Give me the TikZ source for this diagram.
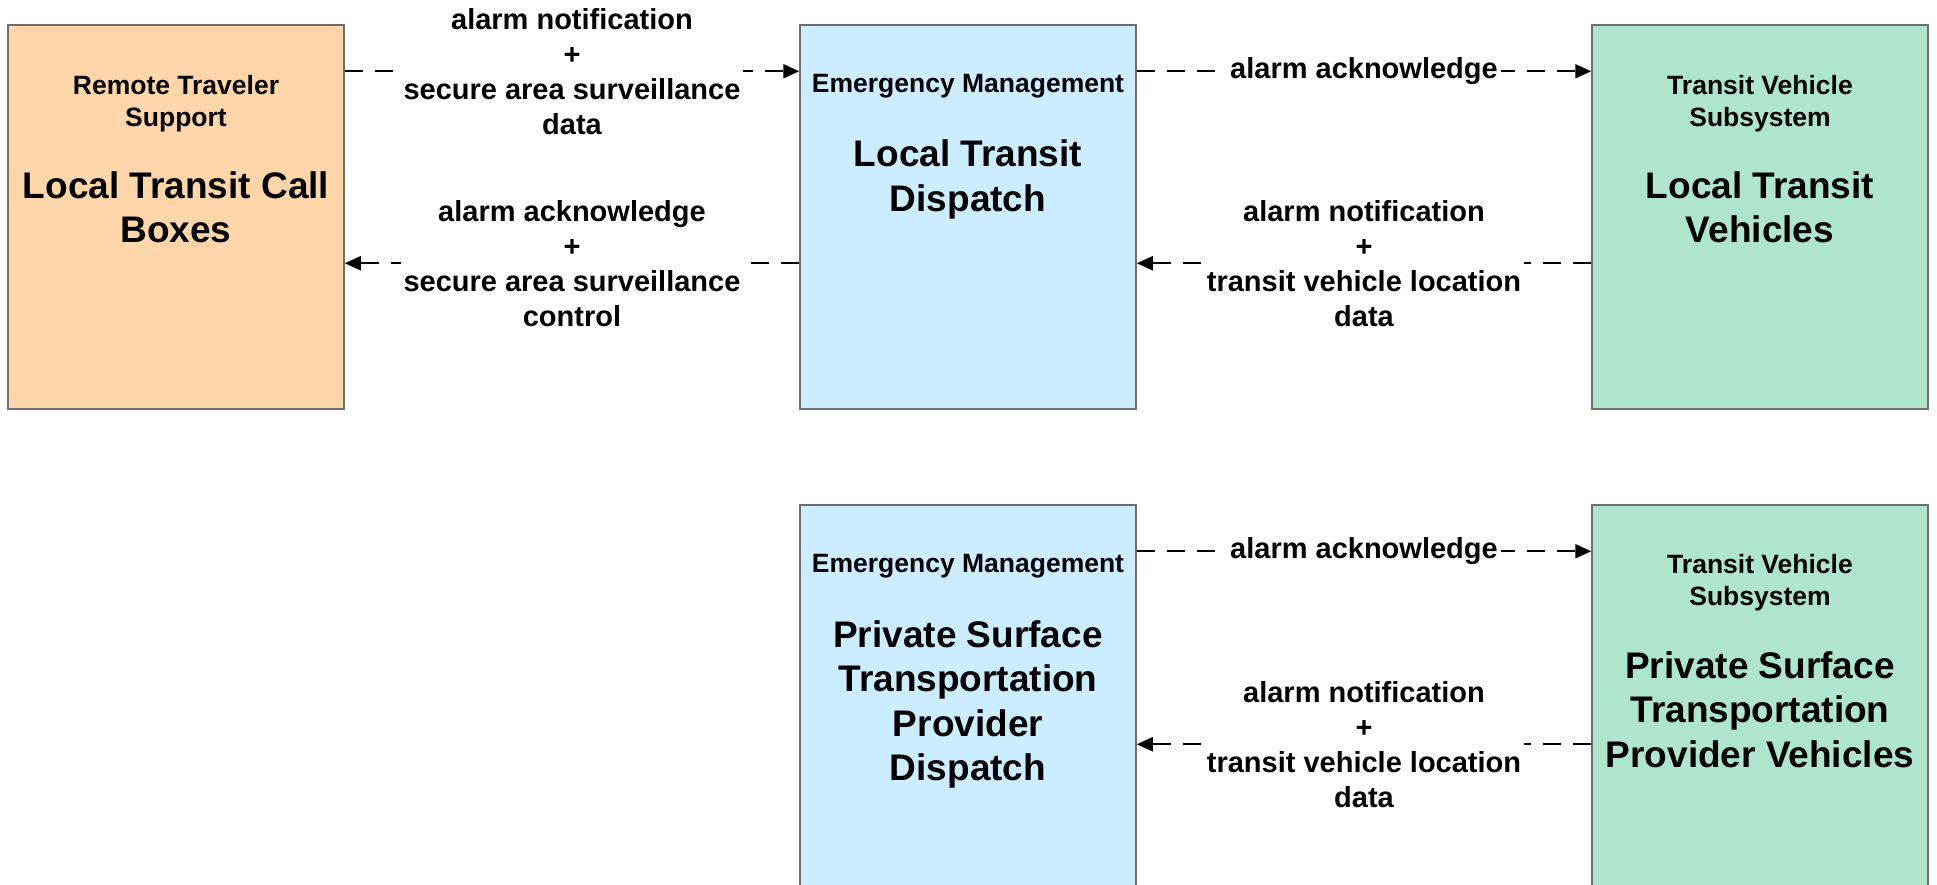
\documentclass[tikz,border=0pt]{standalone}
\usepackage{fontspec}
\setmainfont{Liberation Sans}
\usetikzlibrary{arrows.meta}
\definecolor{peach}{RGB}{255,214,170}
\definecolor{skyb}{RGB}{204,236,255}
\definecolor{mint}{RGB}{175,229,204}
\definecolor{edgegray}{RGB}{110,110,110}
\begin{document}
\begin{tikzpicture}[x=1pt,y=-1pt,
 box/.style={draw=edgegray, line width=1.5pt, minimum width=336pt, inner sep=0pt, rectangle},
 head/.style={anchor=north, inner sep=0pt, align=center, font=\fontsize{26.5}{32}\selectfont\bfseries},
 ttl/.style={anchor=north, inner sep=0pt, align=center, font=\fontsize{37}{44.5}\selectfont\bfseries},
 flow/.style={draw=black, line width=2pt, dash pattern=on 18pt off 12pt, -{Triangle[length=16pt,width=14pt]}},
 lbl/.style={fill=white, inner sep=3pt, align=center, font=\fontsize{29}{35}\selectfont\bfseries}]
\useasboundingbox (0,0) rectangle (1937,885);
\clip (0,0) rectangle (1937,885);
% boxes
\node[box, fill=peach, minimum height=384pt] (A) at (176,217) {};
\node[box, fill=skyb, minimum height=384pt] (B) at (968,217) {};
\node[box, fill=mint, minimum height=384pt] (C) at (1760,217) {};
\node[box, fill=skyb, minimum height=395pt] (D) at (968,702.5) {};
\node[box, fill=mint, minimum height=395pt] (E) at (1760,702.5) {};
% texts
\node[head] (Ah) at (176,75) {Remote Traveler\\Support};
\node[ttl] (At) at (176,171) {Local Transit Call\\Boxes};
\node[head] (Bh) at (968,74) {Emergency Management};
\node[ttl] (Bt) at (968,139.5) {Local Transit\\Dispatch};
\node[head] (Ch) at (1760,75) {Transit Vehicle\\Subsystem};
\node[ttl] (Ct) at (1760,171) {Local Transit\\Vehicles};
\node[head] (Dh) at (968,554) {Emergency Management};
\node[ttl] (Dt) at (968,620) {Private Surface\\Transportation\\Provider\\Dispatch};
\node[head] (Eh) at (1760,554) {Transit Vehicle\\Subsystem};
\node[ttl] (Et) at (1760,651) {Private Surface\\Transportation\\Provider Vehicles};
% flows
\draw[flow] ([yshift=-47pt]A.north east) -- node[lbl] (l1) {alarm notification\\+\\secure area surveillance\\data} ([yshift=-47pt]B.north west);
\draw[flow] ([yshift=-239pt]B.north west) -- node[lbl] (l2) {alarm acknowledge\\+\\secure area surveillance\\control} ([yshift=-239pt]A.north east);
\draw[flow] ([yshift=-47pt]B.north east) -- node[lbl] (l3) {alarm acknowledge} ([yshift=-47pt]C.north west);
\draw[flow] ([yshift=-239pt]C.north west) -- node[lbl] (l4) {alarm notification\\+\\transit vehicle location\\data} ([yshift=-239pt]B.north east);
\draw[flow] ([yshift=-47pt]D.north east) -- node[lbl] (l5) {alarm acknowledge} ([yshift=-47pt]E.north west);
\draw[flow] ([yshift=-240pt]E.north west) -- node[lbl] (l6) {alarm notification\\+\\transit vehicle location\\data} ([yshift=-240pt]D.north east);
\end{tikzpicture}
\end{document}
